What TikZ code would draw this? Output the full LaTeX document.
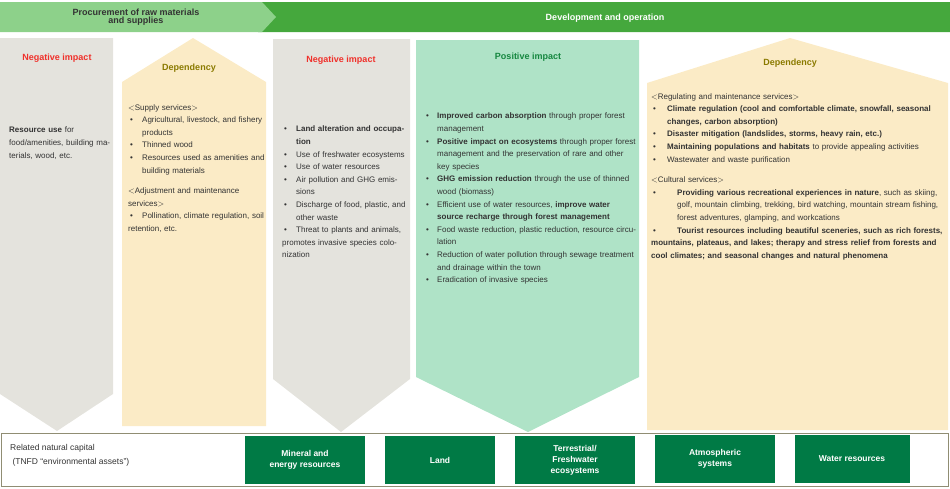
\documentclass[tikz,border=0pt]{standalone}
\usepackage{fontspec}
\setmainfont{Liberation Sans}
\usepackage{tikz}
\usetikzlibrary{calc}
\definecolor{lgreen}{HTML}{8DD18A}
\definecolor{dgreen}{HTML}{45A83D}
\definecolor{boxgreen}{HTML}{007A45}
\definecolor{colgray}{HTML}{E4E3DD}
\definecolor{colyel}{HTML}{FBEBC6}
\definecolor{colmint}{HTML}{AFE3C7}
\definecolor{negred}{HTML}{F0302A}
\definecolor{depol}{HTML}{8A7A00}
\definecolor{posgreen}{HTML}{15873F}
\definecolor{txt}{HTML}{333333}
\tikzstyle{head} = [font=\bfseries\fontsize{9}{10}\selectfont]
\tikzstyle{body} = [anchor=north west,inner sep=0pt,align=left,text=txt,font=\fontsize{8}{12.6}\selectfont]
\tikzstyle{capbox} = [fill=boxgreen,text=white,align=center,font=\bfseries\fontsize{8.5}{11}\selectfont,inner sep=0pt]
\newcommand{\itm}[2][14pt]{\par\hangindent=#1\hangafter=1\noindent\makebox[#1][l]{\hspace{2pt}\textbullet}#2}

\begin{document}
\begin{tikzpicture}[x=1pt,y=-1pt]
    \useasboundingbox (0,0) rectangle (950,488);

% banner
    \fill[dgreen] (258,2) -- (950,2) -- (950,32) -- (258,32) -- (272,17) -- cycle;
    \fill[lgreen] (0,2) -- (262,2) -- (276,17) -- (262,32) -- (0,32) -- cycle;
    \node[head,text=txt,align=center] (proc) at (136,17) {Procurement of raw materials\\[-2pt]and supplies};
    \node[head,text=white] (dev) at (605,18) {Development and operation};

% columns
    \fill[colgray] (0,38) -- (113,38) -- (113,394) -- (57,431) -- (0,394) -- cycle;
    \fill[colyel] (122,82) -- (193,38) -- (266,82) -- (266,426) -- (122,426) -- cycle;
    \fill[colgray] (273,39) -- (410,39) -- (410,379) -- (341,432) -- (273,379) -- cycle;
    \fill[colmint] (416,40) -- (639,40) -- (639,377) -- (528,432) -- (416,377) -- cycle;
    \fill[colyel] (647,83) -- (790,38) -- (948,83) -- (948,430) -- (647,430) -- cycle;

    \node[head,text=negred] (neg1) at (57,58) {Negative impact};
    \node[head,text=depol] (dep1) at (189,68) {Dependency};
    \node[head,text=negred] (neg2) at (341,60) {Negative impact};
    \node[head,text=posgreen] (pos) at (528,57) {Positive impact};
    \node[head,text=depol] (dep2) at (790,63) {Dependency};

    \node[body,text width=102pt] (t1) at (9,127) {\textbf{Resource use} for food/amenities, building materials, wood, etc.};
    \node[body,text width=138pt] (t2) at (128,104) {$<$Supply services$>$
      \itm{Agricultural, livestock, and fishery products}
      \itm{Thinned wood}
      \itm{Resources used as amenities and building materials}
      \par\vspace{8pt}\noindent$<$Adjustment and maintenance services$>$
      \itm{Pollination, climate regulation, soil retention, etc.}};
    \node[body,text width=128pt] (t3) at (282,119) {\itm{\textbf{Land alteration and occupation}}
      \itm{Use of freshwater ecosystems}
      \itm{Use of water resources}
      \itm{Air pollution and GHG emissions}
      \itm{Discharge of food, plastic, and other waste}
      \itm{Threat to plants and animals, promotes invasive species colonization}};
    \node[body,text width=212pt] (t4) at (424,106) {\itm[13pt]{\textbf{Improved carbon absorption} through proper forest management}
      \itm[13pt]{\textbf{Positive impact on ecosystems} through proper forest management and the preservation of rare and other key species}
      \itm[13pt]{\textbf{GHG emission reduction} through the use of thinned wood (biomass)}
      \itm[13pt]{Efficient use of water resources, \textbf{improve water source recharge through forest management}}
      \itm[13pt]{Food waste reduction, plastic reduction, resource circulation}
      \itm[13pt]{Reduction of water pollution through sewage treatment and drainage within the town}
      \itm[13pt]{Eradication of invasive species}};
    \node[body,text width=292pt] (t5) at (651,93) {$<$Regulating and maintenance services$>$
      \itm[16pt]{\textbf{Climate regulation (cool and comfortable climate, snowfall, seasonal changes, carbon absorption)}}
      \itm[16pt]{\textbf{Disaster mitigation (landslides, storms, heavy rain, etc.)}}
      \itm[16pt]{\textbf{Maintaining populations and habitats} to provide appealing activities}
      \itm[16pt]{Wastewater and waste purification}
      \par\vspace{8pt}\noindent$<$Cultural services$>$
      \itm[26pt]{\textbf{Providing various recreational experiences in nature}, such as skiing, golf, mountain climbing, trekking, bird watching, mountain stream fishing, forest adventures, glamping, and workcations}
      \itm[26pt]{\textbf{Tourist resources including beautiful sceneries, such as rich forests, mountains, plateaus, and lakes; therapy and stress relief from forests and cool climates; and seasonal changes and natural phenomena}}};

% related natural capital
    \draw[draw=gray!80!olive,line width=0.8pt] (1,433) rectangle (948,486);
    \node[body,font=\fontsize{8.5}{14}\selectfont] (rel) at (10,444) {Related natural capital\\ \ (TNFD ``environmental assets'')};
    \node[capbox,minimum width=120pt,minimum height=48pt] (min) at (305,460) {Mineral and\\energy resources};
    \node[capbox,minimum width=110pt,minimum height=48pt] (land) at (440,460) {Land};
    \node[capbox,minimum width=120pt,minimum height=48pt] (eco) at (575,460) {Terrestrial/\\Freshwater\\ecosystems};
    \node[capbox,minimum width=120pt,minimum height=48pt] (atm) at (715,459) {Atmospheric\\systems};
    \node[capbox,minimum width=115pt,minimum height=48pt] (wat) at (852,459) {Water resources};
\end{tikzpicture}
\end{document}
